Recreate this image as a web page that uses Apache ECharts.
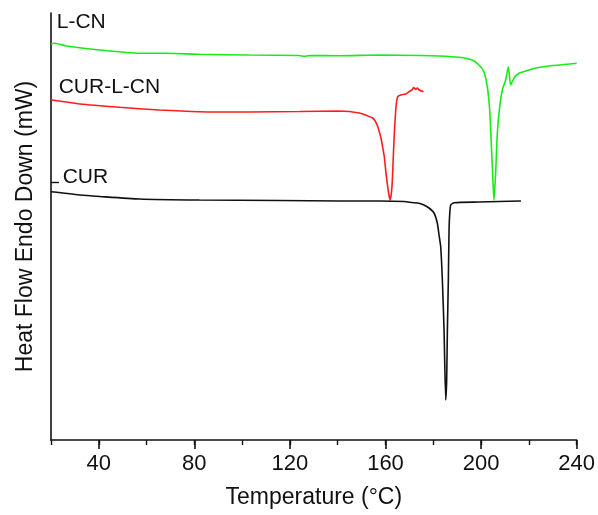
<!DOCTYPE html>
<html>
<head>
<meta charset="utf-8">
<script src="https://cdn.jsdelivr.net/npm/echarts@6/dist/echarts.min.js"></script>
<style>
  html, body { margin: 0; padding: 0; background: #fff; }
  #chart { width: 598px; height: 515px; }
</style>
</head>
<body>
<div id="chart"></div>
<script>
// DSC thermograms: temperature (°C) vs. heat flow (arbitrary offset units, endo down)

// L-CN
const lcnTemp = [20.0, 21.5, 26.4, 40.4, 57.1, 68.2, 82.1, 103.0, 123.9, 126.0, 128.1, 140.6, 157.4, 174.1, 182.5, 190.8, 196.3, 199.1, 201.2, 202.6, 203.6, 204.4, 205.0, 205.4, 206.1, 206.8, 207.8, 208.9, 210.3, 211.4, 212.4, 213.8, 215.9, 220.0, 222.9, 228.4, 234.6, 240.0];
const lcnFlow = [39.6, 39.67, 39.4, 39.0, 38.67, 38.67, 38.57, 38.5, 38.45, 38.36, 38.45, 38.43, 38.5, 38.45, 38.4, 38.27, 38.0, 37.5, 36.83, 35.33, 33.0, 29.0, 25.7, 24.0, 26.7, 30.7, 33.33, 35.0, 36.0, 37.33, 35.5, 36.2, 36.67, 37.0, 37.2, 37.4, 37.55, 37.67];

// CUR-L-CN
const curLcnTemp = [20.0, 23.6, 32.0, 48.7, 65.4, 82.1, 103.0, 123.9, 140.6, 149.0, 154.6, 156.5, 158.1, 158.8, 159.5, 160.2, 161.3, 162.0, 162.7, 163.3, 163.7, 164.4, 165.1, 166.4, 168.5, 169.9, 171.3, 171.8, 172.7, 173.3, 174.1, 175.9];
const curLcnFlow = [34.0, 33.9, 33.6, 33.27, 33.0, 32.83, 32.8, 32.85, 32.9, 32.7, 32.2, 31.5, 30.2, 29.3, 28.3, 26.7, 24.7, 24.0, 25.3, 28.5, 30.7, 33.33, 34.33, 34.5, 34.6, 34.83, 35.07, 35.25, 35.07, 35.2, 35.0, 34.83];

// CUR
const curTemp = [20.0, 23.6, 32.0, 40.4, 57.1, 82.1, 115.5, 140.6, 157.4, 167.8, 171.1, 174.0, 176.1, 178.2, 180.3, 181.7, 182.4, 183.1, 183.8, 184.5, 185.2, 185.6, 185.9, 186.3, 186.6, 186.9, 187.3, 188.7, 199.2, 207.5, 216.7];
const curFlow = [24.83, 24.75, 24.5, 24.35, 24.1, 24.0, 23.95, 23.9, 23.9, 23.85, 23.75, 23.67, 23.5, 23.2, 22.7, 21.67, 20.5, 19.33, 16.0, 11.0, 4.0, 6.0, 11.0, 16.0, 21.0, 22.7, 23.5, 23.73, 23.8, 23.85, 23.9];

// Curve names and where each one is labelled [temperature, heat flow]
const seriesNames = ['L-CN', 'CUR-L-CN', 'CUR'];
const labelAt = [[22.4, 41.75], [23.2, 35.3], [24.9, 26.25]];

// Axis settings
const xMin = 20, xMax = 240, xStep = 20;
const xMajorTicks = [40, 80, 120, 160, 200, 240];
const yMin = 0, yMax = 42.7;
const yTicks = [25.8];

const FONT = '"Liberation Sans", Arial, sans-serif';
const colors = ['#17ec17', '#ff1c1c', '#111111'];

function pairs(xs, ys) { return xs.map((x, i) => [x, ys[i]]); }

function makeSeries(idx, data) {
  return {
    name: seriesNames[idx],
    type: 'line',
    data: data,
    showSymbol: false,
    symbol: 'none',
    smooth: 0.2,
    lineStyle: { color: colors[idx], width: 1.6 },
    animation: false,
    markPoint: {
      symbol: 'circle',
      symbolSize: 0,
      data: [{ coord: labelAt[idx], value: seriesNames[idx] }],
      label: {
        show: true,
        position: 'right',
        distance: 0,
        formatter: seriesNames[idx],
        color: '#111',
        fontFamily: FONT,
        fontSize: 21
      },
      animation: false
    }
  };
}

const chart = echarts.init(document.getElementById('chart'), null, { renderer: 'canvas' });
chart.setOption({
  backgroundColor: '#ffffff',
  animation: false,
  grid: { left: 51, right: 20, top: 13, bottom: 75 },
  xAxis: [
    {
      type: 'value',
      min: xMin, max: xMax, interval: xStep,
      name: 'Temperature (°C)',
      nameLocation: 'middle',
      nameGap: 46,
      nameTextStyle: { fontFamily: FONT, fontSize: 23, color: '#111' },
      axisLine: { show: true, lineStyle: { color: '#111', width: 1.6 } },
      axisTick: { show: true, length: 5, lineStyle: { color: '#111', width: 1.4 } },
      axisLabel: {
        show: true,
        margin: 13,
        fontFamily: FONT, fontSize: 22, color: '#111',
        formatter: v => (xMajorTicks.indexOf(v) >= 0 ? String(v) : '')
      },
      splitLine: { show: false }
    },
    {
      type: 'value',
      position: 'bottom',
      min: xMin, max: xMax,
      axisLine: { show: false },
      axisTick: { show: true, length: 9, customValues: xMajorTicks, lineStyle: { color: '#111', width: 1.6 } },
      axisLabel: { show: false },
      splitLine: { show: false }
    }
  ],
  yAxis: {
    type: 'value',
    min: yMin, max: yMax,
    name: 'Heat Flow Endo Down (mW)',
    nameLocation: 'middle',
    nameRotate: 90,
    nameGap: 14,
    nameTextStyle: { fontFamily: FONT, fontSize: 23, color: '#111' },
    axisLine: { show: true, lineStyle: { color: '#111', width: 1.6 } },
    axisTick: { show: true, inside: true, length: 8, customValues: yTicks, lineStyle: { color: '#111', width: 1.4 } },
    axisLabel: { show: false },
    splitLine: { show: false }
  },
  series: [
    makeSeries(0, pairs(lcnTemp, lcnFlow)),
    makeSeries(1, pairs(curLcnTemp, curLcnFlow)),
    makeSeries(2, pairs(curTemp, curFlow))
  ]
});
</script>
</body>
</html>
